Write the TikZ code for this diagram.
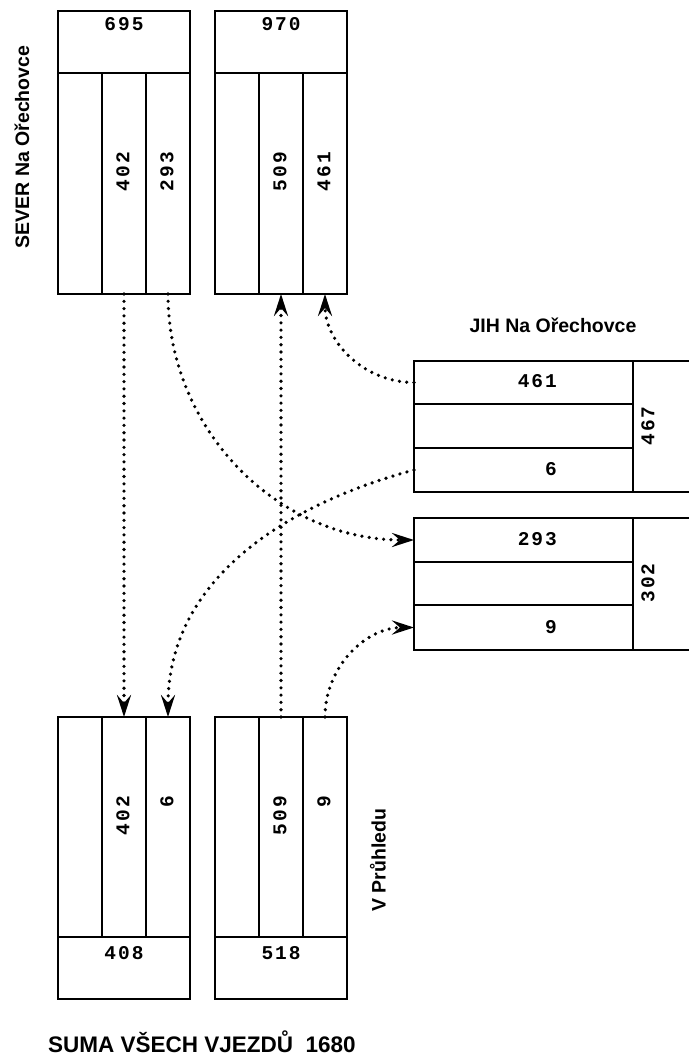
\documentclass[tikz,border=0pt]{standalone}
\usepackage{fontspec}
\setmainfont{Liberation Sans}
\newfontfamily\digitfont[LetterSpace=10]{Liberation Mono}
\usetikzlibrary{arrows.meta}
\tikzset{
    cell/.style={draw, line width=2pt, inner sep=0pt, outer sep=0pt, anchor=north west},
    count/.style={font=\digitfont\bfseries\fontsize{19.5}{19.5}\selectfont, inner sep=0pt},
    roadlabel/.style={font=\bfseries\fontsize{19.5}{19.5}\selectfont, inner sep=0pt},
    flow/.style={line width=3.6pt, line cap=round, dash pattern=on 0pt off 7.3pt,
        -{Stealth[length=22pt, width=14pt, inset=8pt]}}
}

\begin{document}
\begin{tikzpicture}[x=1pt, y=1pt]
        \useasboundingbox (0,0) rectangle (688,-1057);

        % ---------------- upper pair: head cell + three columns ----------------
        \foreach \name/\x in {sev/58, tar/215} {
            \node[cell, minimum width=132pt, minimum height=62pt] (\name Head) at (\x,-11) {};
            \foreach \c [count=\i from 0] in {A,B,C} {
                \node[cell, minimum width=44pt, minimum height=221pt] (\name Col\c) at (\x+44*\i,-73) {};
            }
        }

        % ---------------- lower pair: three columns + foot cell ----------------
        \foreach \name/\x in {sum/58, prh/215} {
            \foreach \c [count=\i from 0] in {A,B,C} {
                \node[cell, minimum width=44pt, minimum height=220pt] (\name Col\c) at (\x+44*\i,-717) {};
            }
            \node[cell, minimum width=132pt, minimum height=62pt] (\name Foot) at (\x,-937) {};
        }

        % ---------------- right side: three rows + total column ----------------
        \node[cell, minimum width=219pt, minimum height=43pt] (jihRowA) at (414,-361) {};
        \node[cell, minimum width=219pt, minimum height=44pt] (jihRowB) at (414,-404) {};
        \node[cell, minimum width=219pt, minimum height=44pt] (jihRowC) at (414,-448) {};
        \node[cell, minimum width=62pt, minimum height=131pt] (jihSum) at (633,-361) {};

        \node[cell, minimum width=219pt, minimum height=44pt] (vjeRowA) at (414,-518) {};
        \node[cell, minimum width=219pt, minimum height=43pt] (vjeRowB) at (414,-562) {};
        \node[cell, minimum width=219pt, minimum height=45pt] (vjeRowC) at (414,-605) {};
        \node[cell, minimum width=62pt, minimum height=132pt] (vjeSum) at (633,-518) {};

        % Counts
        \node[count] (sevTotal) at (124,-24) {695};
        \node[count] (tarTotal) at (281,-24) {970};
        \node[count, rotate=90, anchor=east] (sevLeft) at (123,-152) {402};
        \node[count, rotate=90, anchor=east] (sevRight) at (167,-152) {293};
        \node[count, rotate=90, anchor=east] (tarLeft) at (280,-152) {509};
        \node[count, rotate=90, anchor=east] (tarRight) at (324,-152) {461};

        \node[count, rotate=90, anchor=east] (sumLeft) at (123,-796) {402};
        \node[count, rotate=90, anchor=east] (sumRight) at (167,-796) {6};
        \node[count, rotate=90, anchor=east] (prhLeft) at (280,-796) {509};
        \node[count, rotate=90, anchor=east] (prhRight) at (324,-796) {9};
        \node[count] (sumTotal) at (124,-953) {408};
        \node[count] (prhTotal) at (281,-953) {518};

        \node[count, anchor=east] (jihTop) at (557,-381) {461};
        \node[count, anchor=east] (jihBottom) at (557,-469) {6};
        \node[count, rotate=90] (jihTotal) at (648,-426) {467};
        \node[count, anchor=east] (vjeTop) at (557,-539) {293};
        \node[count, anchor=east] (vjeBottom) at (557,-627) {9};
        \node[count, rotate=90] (vjeTotal) at (648,-583) {302};

        % Road names
        \node[roadlabel, rotate=90] (sevName) at (22,-147) {SEVER Na Ořechovce};
        \node[roadlabel] (jihName) at (553,-325) {JIH Na Ořechovce};
        \node[roadlabel, rotate=90] (prhName) at (378,-860) {V Průhledu};
        \node[roadlabel, font=\bfseries\fontsize{22.5}{22.5}\selectfont, anchor=base] (allSum) at (202,-1052) {SUMA VŠECH VJEZDŮ\ \ 1680};

        % Flows between the cells
        \draw[flow] (sevColB.south) -- (sumColB.north);
        \draw[flow] (prhColB.north) -- (tarColB.south);
        \draw[flow] (sevColC.south) to[out=-90, in=180] (vjeRowA.west);
        \draw[flow] (jihRowA.west) to[out=180, in=-90] (tarColC.south);
        \draw[flow] (jihRowC.west) to[out=195, in=90] (sumColC.north);
        \draw[flow] (prhColC.north) to[out=90, in=180] (vjeRowC.west);
    \end{tikzpicture}
\end{document}
